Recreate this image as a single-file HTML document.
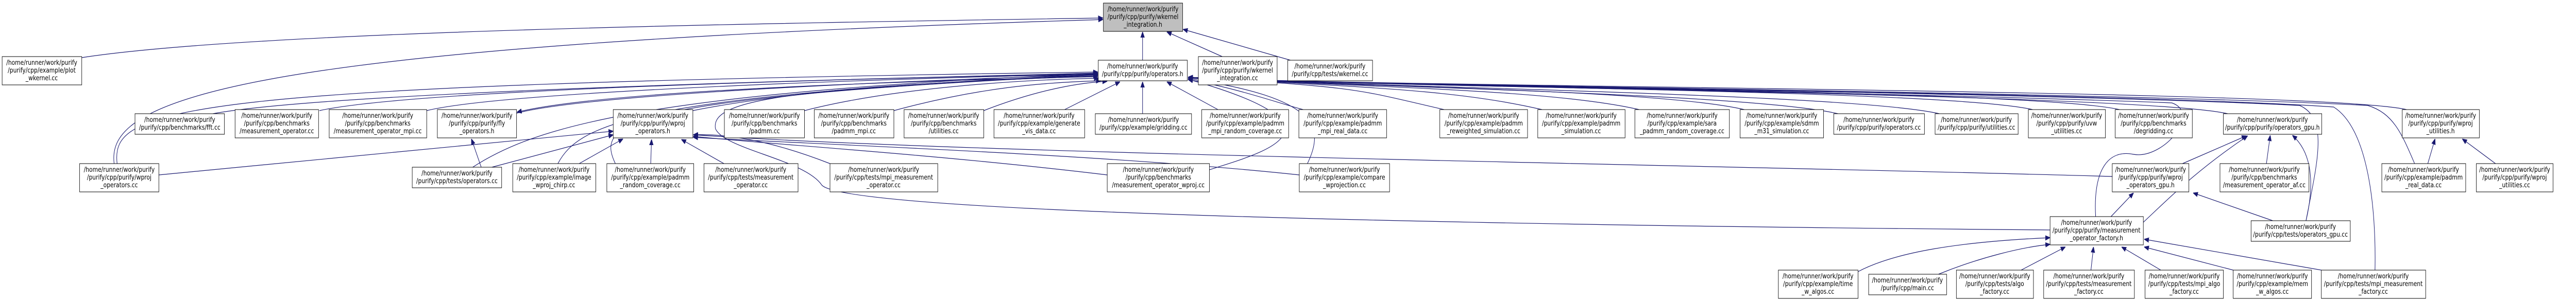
<!DOCTYPE html>
<html><head><meta charset="utf-8"><style>
html,body{margin:0;padding:0;background:#fff;overflow:hidden;width:100%;height:100%;}
svg{display:block;width:100vw;height:100vh;}
text{font-family:"DejaVu Sans","Liberation Sans",sans-serif;font-size:13px;fill:#000;text-anchor:middle;}
.e{fill:none;stroke:#191970;stroke-width:1.2;}
rect{fill:#fff;stroke:#000;stroke-width:1;}
</style></head><body>
<svg viewBox="0 0 6049 587" preserveAspectRatio="none" xmlns="http://www.w3.org/2000/svg">
<defs><marker id="a" viewBox="0 0 10 10" refX="10" refY="5" markerWidth="11" markerHeight="11" markerUnits="userSpaceOnUse" orient="auto"><path d="M0,1 L10,5 L0,9z" fill="#191970" stroke="#191970"/></marker></defs>
<g class="e" marker-end="url(#a)">
<path d="M2683 117 L2683 62"/>
<path d="M2870 110 L2740 62"/>
<path d="M3030 117 L2778 57"/>
<path d="M192 112 C600 60,1800 45,2590 35"/>
<path d="M268 318 C250 200,500 90,2590 38"/>
<path d="M500 221 C800 175,2200 150,2578 142"/>
<path d="M750 215 C1000 170,2200 150,2578 143"/>
<path d="M1002 215 C1200 175,2200 150,2578 144"/>
<path d="M1213 220 C1400 180,2200 155,2578 145"/>
<path d="M1627 215 C1900 170,2300 155,2578 148"/>
<path d="M1889 215 C2100 170,2400 155,2580 152"/>
<path d="M2099 215 C2300 170,2450 160,2585 157"/>
<path d="M2310 215 C2450 170,2550 160,2600 158"/>
<path d="M2500 213 L2630 159"/>
<path d="M2683 221 L2683 159"/>
<path d="M2860 213 L2740 159"/>
<path d="M3060 213 C3000 200,2900 170,2790 155"/>
<path d="M3391 213 C3181 173,3200 170,2790 150"/>
<path d="M3621 213 C3411 173,3200 170,2790 150"/>
<path d="M3849 213 C3639 173,3200 170,2790 150"/>
<path d="M4096 213 C3886 173,3200 170,2790 150"/>
<path d="M4316 221 C4106 181,3200 170,2790 150"/>
<path d="M4554 221 C4344 181,3200 170,2790 150"/>
<path d="M4773 213 C4563 173,3200 170,2790 150"/>
<path d="M4977 213 C4767 173,3200 170,2790 150"/>
<path d="M5231 221 C5021 181,3200 170,2790 150"/>
<path d="M5651 213 C5441 173,3200 170,2790 150"/>
<path d="M275 318 C260 210,400 165,2578 140"/>
<path d="M1110 325 C1250 250,1500 180,2578 143"/>
<path d="M1310 318 C1360 240,1500 185,2578 145"/>
<path d="M1445 318 C1400 240,1450 190,2578 146"/>
<path d="M3070 318 C3110 250,3100 190,2790 153"/>
<path d="M2578 149 C2000 160,1400 180,1214 218"/>
<path d="M373 340 L1440 255"/>
<path d="M1155 325 L1440 262"/>
<path d="M1360 318 L1463 270"/>
<path d="M1528 318 L1530 271"/>
<path d="M1700 318 L1600 271"/>
<path d="M1949 318 C1800 270,1700 260,1628 262"/>
<path d="M2600 340 C2200 300,1800 280,1628 265"/>
<path d="M3051 340 C2600 300,1900 280,1628 267"/>
<path d="M4960 343 C4000 320,2300 300,1628 262"/>
<path d="M4814 447 C3800 440,2000 420,1930 360 C1890 310,1700 290,1680 250 C1670 200,1800 170,2578 148"/>
<path d="M2840 330 C2950 300,3200 250,2790 154"/>
<path d="M1130 325 L1107 270"/>
<path d="M4921 421 C4915 330,4950 290,5010 300 C5080 310,5170 220,5100 200 C4500 180,3200 165,2790 152"/>
<path d="M5415 429 C5440 320,5470 230,5400 205 C4800 180,3200 165,2790 152"/>
<path d="M5577 525 C5580 400,5560 250,5480 208 C5000 180,3200 165,2790 152"/>
<path d="M5670 318 C5640 260,5620 220,5560 205 C5000 180,3200 165,2790 152"/>
<path d="M5415 429 C5440 340,5420 290,5383 263"/>
<path d="M5337 429 L5150 375"/>
<path d="M5322 318 L5331 263"/>
<path d="M5125 318 L5275 264"/>
<path d="M5033 432 C5100 380,5160 330,5278 264"/>
<path d="M4957 421 L5010 375"/>
<path d="M5701 318 L5718 270"/>
<path d="M5860 318 L5782 270"/>
<path d="M4363 528 C4450 490,4600 470,4814 462"/>
<path d="M4552 533 C4650 500,4750 480,4814 475"/>
<path d="M4746 525 L4850 480"/>
<path d="M4910 525 L4916 480"/>
<path d="M5074 525 L4982 480"/>
<path d="M5244 525 L5035 480"/>
<path d="M5451 525 L5035 465"/>
</g>

<g>
<rect x="2591" y="6" width="186" height="55" style="fill:#bfbfbf"/><text x="2684" y="22">/home/runner/work/purify</text><text x="2684" y="37">/purify/cpp/purify/wkernel</text><text x="2684" y="52">_integration.h</text>
<rect x="5" y="110" width="187" height="55"/><text x="98" y="126">/home/runner/work/purify</text><text x="98" y="141">/purify/cpp/example/plot</text><text x="98" y="156">_wkernel.cc</text>
<rect x="2579" y="117" width="209" height="40"/><text x="2683" y="133">/home/runner/work/purify</text><text x="2683" y="148">/purify/cpp/purify/operators.h</text>
<rect x="2814" y="110" width="185" height="55"/><text x="2906" y="126">/home/runner/work/purify</text><text x="2906" y="141">/purify/cpp/purify/wkernel</text><text x="2906" y="156">_integration.cc</text>
<rect x="3024" y="117" width="199" height="40"/><text x="3123" y="133">/home/runner/work/purify</text><text x="3123" y="148">/purify/cpp/tests/wkernel.cc</text>

<rect x="317" y="221" width="210" height="40"/><text x="422" y="237">/home/runner/work/purify</text><text x="422" y="252">/purify/cpp/benchmarks/fft.cc</text>
<rect x="552" y="213" width="196" height="55"/><text x="650" y="229">/home/runner/work/purify</text><text x="650" y="244">/purify/cpp/benchmarks</text><text x="650" y="259">/measurement_operator.cc</text>
<rect x="773" y="213" width="229" height="55"/><text x="887" y="229">/home/runner/work/purify</text><text x="887" y="244">/purify/cpp/benchmarks</text><text x="887" y="259">/measurement_operator_mpi.cc</text>
<rect x="1027" y="213" width="186" height="55"/><text x="1120" y="229">/home/runner/work/purify</text><text x="1120" y="244">/purify/cpp/purify/fly</text><text x="1120" y="259">_operators.h</text>
<rect x="1440" y="213" width="187" height="55"/><text x="1533" y="229">/home/runner/work/purify</text><text x="1533" y="244">/purify/cpp/purify/wproj</text><text x="1533" y="259">_operators.h</text>
<rect x="1701" y="213" width="188" height="55"/><text x="1795" y="229">/home/runner/work/purify</text><text x="1795" y="244">/purify/cpp/benchmarks</text><text x="1795" y="259">/padmm.cc</text>
<rect x="1912" y="213" width="187" height="55"/><text x="2005" y="229">/home/runner/work/purify</text><text x="2005" y="244">/purify/cpp/benchmarks</text><text x="2005" y="259">/padmm_mpi.cc</text>
<rect x="2123" y="213" width="187" height="55"/><text x="2216" y="229">/home/runner/work/purify</text><text x="2216" y="244">/purify/cpp/benchmarks</text><text x="2216" y="259">/utilities.cc</text>
<rect x="2334" y="213" width="213" height="55"/><text x="2440" y="229">/home/runner/work/purify</text><text x="2440" y="244">/purify/cpp/example/generate</text><text x="2440" y="259">_vis_data.cc</text>
<rect x="2572" y="221" width="226" height="40"/><text x="2685" y="237">/home/runner/work/purify</text><text x="2685" y="252">/purify/cpp/example/gridding.cc</text>
<rect x="2822" y="213" width="204" height="55"/><text x="2924" y="229">/home/runner/work/purify</text><text x="2924" y="244">/purify/cpp/example/padmm</text><text x="2924" y="259">_mpi_random_coverage.cc</text>
<rect x="3050" y="213" width="206" height="55"/><text x="3153" y="229">/home/runner/work/purify</text><text x="3153" y="244">/purify/cpp/example/padmm</text><text x="3153" y="259">_mpi_real_data.cc</text>
<rect x="3381" y="213" width="206" height="55"/><text x="3484" y="229">/home/runner/work/purify</text><text x="3484" y="244">/purify/cpp/example/padmm</text><text x="3484" y="259">_reweighted_simulation.cc</text>
<rect x="3611" y="213" width="205" height="55"/><text x="3713" y="229">/home/runner/work/purify</text><text x="3713" y="244">/purify/cpp/example/padmm</text><text x="3713" y="259">_simulation.cc</text>
<rect x="3839" y="213" width="222" height="55"/><text x="3950" y="229">/home/runner/work/purify</text><text x="3950" y="244">/purify/cpp/example/sara</text><text x="3950" y="259">_padmm_random_coverage.cc</text>
<rect x="4086" y="213" width="196" height="55"/><text x="4184" y="229">/home/runner/work/purify</text><text x="4184" y="244">/purify/cpp/example/sdmm</text><text x="4184" y="259">_m31_simulation.cc</text>
<rect x="4306" y="221" width="213" height="40"/><text x="4412" y="237">/home/runner/work/purify</text><text x="4412" y="252">/purify/cpp/purify/operators.cc</text>
<rect x="4544" y="221" width="195" height="40"/><text x="4641" y="237">/home/runner/work/purify</text><text x="4641" y="252">/purify/cpp/purify/utilities.cc</text>
<rect x="4763" y="213" width="181" height="55"/><text x="4853" y="229">/home/runner/work/purify</text><text x="4853" y="244">/purify/cpp/purify/uvw</text><text x="4853" y="259">_utilities.cc</text>
<rect x="4967" y="213" width="181" height="55"/><text x="5057" y="229">/home/runner/work/purify</text><text x="5057" y="244">/purify/cpp/benchmarks</text><text x="5057" y="259">/degridding.cc</text>
<rect x="5221" y="221" width="231" height="40"/><text x="5336" y="237">/home/runner/work/purify</text><text x="5336" y="252">/purify/cpp/purify/operators_gpu.h</text>
<rect x="5641" y="213" width="181" height="55"/><text x="5731" y="229">/home/runner/work/purify</text><text x="5731" y="244">/purify/cpp/purify/wproj</text><text x="5731" y="259">_utilities.h</text>

<rect x="187" y="318" width="186" height="55"/><text x="280" y="334">/home/runner/work/purify</text><text x="280" y="349">/purify/cpp/purify/wproj</text><text x="280" y="364">_operators.cc</text>
<rect x="968" y="325" width="210" height="40"/><text x="1073" y="341">/home/runner/work/purify</text><text x="1073" y="356">/purify/cpp/tests/operators.cc</text>
<rect x="1204" y="318" width="195" height="55"/><text x="1301" y="334">/home/runner/work/purify</text><text x="1301" y="349">/purify/cpp/example/image</text><text x="1301" y="364">_wproj_chirp.cc</text>
<rect x="1425" y="318" width="204" height="55"/><text x="1527" y="334">/home/runner/work/purify</text><text x="1527" y="349">/purify/cpp/example/padmm</text><text x="1527" y="364">_random_coverage.cc</text>
<rect x="1653" y="318" width="221" height="55"/><text x="1763" y="334">/home/runner/work/purify</text><text x="1763" y="349">/purify/cpp/tests/measurement</text><text x="1763" y="364">_operator.cc</text>
<rect x="1949" y="318" width="253" height="55"/><text x="2075" y="334">/home/runner/work/purify</text><text x="2075" y="349">/purify/cpp/tests/mpi_measurement</text><text x="2075" y="364">_operator.cc</text>
<rect x="2600" y="318" width="240" height="55"/><text x="2720" y="334">/home/runner/work/purify</text><text x="2720" y="349">/purify/cpp/benchmarks</text><text x="2720" y="364">/measurement_operator_wproj.cc</text>
<rect x="3051" y="318" width="212" height="55"/><text x="3157" y="334">/home/runner/work/purify</text><text x="3157" y="349">/purify/cpp/example/compare</text><text x="3157" y="364">_wprojection.cc</text>
<rect x="4960" y="318" width="180" height="55"/><text x="5050" y="334">/home/runner/work/purify</text><text x="5050" y="349">/purify/cpp/purify/wproj</text><text x="5050" y="364">_operators_gpu.h</text>
<rect x="5213" y="318" width="209" height="55"/><text x="5317" y="334">/home/runner/work/purify</text><text x="5317" y="349">/purify/cpp/benchmarks</text><text x="5317" y="364">/measurement_operator_af.cc</text>
<rect x="5593" y="318" width="197" height="55"/><text x="5691" y="334">/home/runner/work/purify</text><text x="5691" y="349">/purify/cpp/example/padmm</text><text x="5691" y="364">_real_data.cc</text>
<rect x="5815" y="318" width="180" height="55"/><text x="5905" y="334">/home/runner/work/purify</text><text x="5905" y="349">/purify/cpp/purify/wproj</text><text x="5905" y="364">_utilities.cc</text>

<rect x="4814" y="421" width="219" height="55"/><text x="4923" y="437">/home/runner/work/purify</text><text x="4923" y="452">/purify/cpp/purify/measurement</text><text x="4923" y="467">_operator_factory.h</text>
<rect x="5286" y="429" width="233" height="40"/><text x="5402" y="445">/home/runner/work/purify</text><text x="5402" y="460">/purify/cpp/tests/operators_gpu.cc</text>

<rect x="4176" y="525" width="187" height="55"/><text x="4269" y="541">/home/runner/work/purify</text><text x="4269" y="556">/purify/cpp/example/time</text><text x="4269" y="571">_w_algos.cc</text>
<rect x="4388" y="533" width="183" height="40"/><text x="4479" y="549">/home/runner/work/purify</text><text x="4479" y="564">/purify/cpp/main.cc</text>
<rect x="4594" y="525" width="181" height="55"/><text x="4684" y="541">/home/runner/work/purify</text><text x="4684" y="556">/purify/cpp/tests/algo</text><text x="4684" y="571">_factory.cc</text>
<rect x="4799" y="525" width="213" height="55"/><text x="4905" y="541">/home/runner/work/purify</text><text x="4905" y="556">/purify/cpp/tests/measurement</text><text x="4905" y="571">_factory.cc</text>
<rect x="5037" y="525" width="184" height="55"/><text x="5129" y="541">/home/runner/work/purify</text><text x="5129" y="556">/purify/cpp/tests/mpi_algo</text><text x="5129" y="571">_factory.cc</text>
<rect x="5244" y="525" width="184" height="55"/><text x="5336" y="541">/home/runner/work/purify</text><text x="5336" y="556">/purify/cpp/example/mem</text><text x="5336" y="571">_w_algos.cc</text>
<rect x="5451" y="525" width="245" height="55"/><text x="5573" y="541">/home/runner/work/purify</text><text x="5573" y="556">/purify/cpp/tests/mpi_measurement</text><text x="5573" y="571">_factory.cc</text>
</g>
</svg>
</body></html>
